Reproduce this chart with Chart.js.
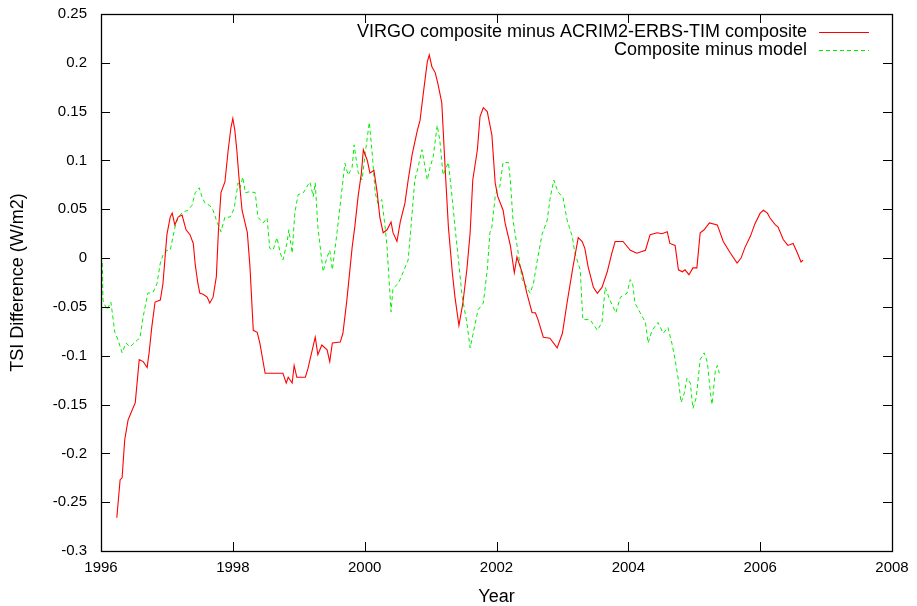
<!DOCTYPE html>
<html>
<head>
<meta charset="utf-8">
<script src="https://cdn.jsdelivr.net/npm/chart.js@4.4.0/dist/chart.umd.min.js"></script>
<style>
  html, body { margin: 0; padding: 0; background: #fff; }
  #wrap { width: 917px; height: 606px; position: relative; }
</style>
</head>
<body>
<div id="wrap"><canvas id="c"></canvas></div>
<script>
// ---- Data ----
const seriesLabels = ["VIRGO composite minus ACRIM2-ERBS-TIM composite", "Composite minus model"];

const virgoYears = [
  1996.24,1996.29,1996.32,1996.36,1996.41,1996.44,1996.52,1996.58,1996.64,1996.70,
  1996.73,1996.77,1996.82,1996.90,1996.94,1997.00,1997.05,1997.08,1997.12,1997.17,
  1997.23,1997.29,1997.35,1997.40,1997.43,1997.47,1997.50,1997.55,1997.61,1997.65,
  1997.70,1997.75,1997.78,1997.82,1997.88,1997.93,1997.97,1998.00,1998.03,1998.06,
  1998.09,1998.14,1998.22,1998.26,1998.31,1998.37,1998.41,1998.49,1998.76,1998.81,
  1998.84,1998.90,1998.93,1998.97,1999.10,1999.14,1999.25,1999.29,1999.35,1999.43,
  1999.47,1999.51,1999.63,1999.67,1999.73,1999.81,1999.85,1999.90,1999.95,1999.98,
  2000.04,2000.08,2000.14,2000.19,2000.23,2000.28,2000.34,2000.40,2000.43,2000.49,
  2000.54,2000.61,2000.66,2000.72,2000.80,2000.84,2000.89,2000.95,2000.98,2001.02,
  2001.07,2001.11,2001.17,2001.22,2001.27,2001.33,2001.37,2001.43,2001.49,2001.55,
  2001.60,2001.64,2001.71,2001.75,2001.80,2001.86,2001.93,2001.98,2002.02,2002.10,
  2002.13,2002.21,2002.27,2002.31,2002.39,2002.46,2002.54,2002.59,2002.63,2002.71,
  2002.81,2002.92,2003.00,2003.07,2003.16,2003.24,2003.30,2003.34,2003.39,2003.47,
  2003.53,2003.60,2003.68,2003.75,2003.80,2003.92,2004.03,2004.13,2004.26,2004.33,
  2004.44,2004.51,2004.59,2004.63,2004.71,2004.76,2004.82,2004.86,2004.92,2004.98,
  2005.04,2005.09,2005.15,2005.23,2005.35,2005.44,2005.55,2005.65,2005.71,2005.77,
  2005.85,2005.92,2006.00,2006.05,2006.11,2006.15,2006.23,2006.27,2006.35,2006.42,
  2006.50,2006.56,2006.62,2006.65
];
const virgoValues = [
  -0.266,-0.227,-0.225,-0.186,-0.166,-0.161,-0.148,-0.104,-0.106,-0.112,
  -0.097,-0.071,-0.045,-0.043,-0.026,0.024,0.042,0.046,0.034,0.042,
  0.044,0.029,0.024,0.015,-0.007,-0.026,-0.036,-0.037,-0.040,-0.046,
  -0.040,-0.019,0.026,0.067,0.078,0.111,0.133,0.143,0.131,0.111,
  0.085,0.049,0.026,-0.009,-0.074,-0.076,-0.087,-0.118,-0.118,-0.128,
  -0.122,-0.128,-0.110,-0.122,-0.122,-0.113,-0.081,-0.099,-0.089,-0.094,
  -0.106,-0.087,-0.086,-0.077,-0.043,0.011,0.032,0.063,0.087,0.111,
  0.100,0.087,0.090,0.067,0.042,0.026,0.029,0.037,0.026,0.017,
  0.037,0.056,0.080,0.106,0.131,0.141,0.169,0.201,0.208,0.196,
  0.190,0.179,0.159,0.093,0.032,-0.015,-0.040,-0.069,-0.046,-0.012,
  0.026,0.080,0.111,0.145,0.154,0.150,0.126,0.077,0.063,0.049,
  0.036,0.013,-0.015,0.001,-0.015,-0.036,-0.056,-0.056,-0.063,-0.081,
  -0.082,-0.092,-0.077,-0.046,-0.009,0.021,0.017,0.010,-0.009,-0.030,
  -0.036,-0.030,-0.014,0.005,0.017,0.017,0.008,0.005,0.008,0.024,
  0.026,0.025,0.027,0.015,0.013,-0.012,-0.014,-0.012,-0.017,-0.010,
  -0.010,0.026,0.029,0.036,0.034,0.017,0.005,-0.005,0.000,0.011,
  0.022,0.035,0.046,0.049,0.046,0.041,0.034,0.032,0.019,0.013,
  0.015,0.006,-0.004,-0.002
];

const modelYears = [
  1996.02,1996.03,1996.09,1996.15,1996.21,1996.26,1996.32,1996.38,1996.44,1996.55,
  1996.59,1996.64,1996.71,1996.79,1996.85,1996.90,1996.94,1997.00,1997.05,1997.12,
  1997.17,1997.24,1997.32,1997.38,1997.43,1997.49,1997.53,1997.58,1997.65,1997.70,
  1997.76,1997.82,1997.88,1997.96,1998.02,1998.08,1998.11,1998.15,1998.19,1998.26,
  1998.34,1998.38,1998.46,1998.52,1998.56,1998.61,1998.67,1998.72,1998.76,1998.82,
  1998.85,1998.90,1998.94,1998.99,1999.07,1999.14,1999.17,1999.22,1999.25,1999.29,
  1999.37,1999.43,1999.47,1999.51,1999.58,1999.66,1999.70,1999.75,1999.81,1999.84,
  1999.90,1999.96,2000.01,2000.07,2000.11,2000.16,2000.20,2000.26,2000.31,2000.34,
  2000.40,2000.43,2000.51,2000.58,2000.66,2000.72,2000.76,2000.81,2000.87,2000.95,
  2000.99,2001.04,2001.10,2001.14,2001.19,2001.27,2001.33,2001.37,2001.42,2001.48,
  2001.55,2001.60,2001.64,2001.72,2001.80,2001.86,2001.90,2001.93,2001.98,2002.01,
  2002.05,2002.10,2002.18,2002.21,2002.25,2002.33,2002.39,2002.46,2002.51,2002.56,
  2002.62,2002.69,2002.77,2002.81,2002.87,2002.93,2003.01,2003.07,2003.15,2003.19,
  2003.27,2003.31,2003.42,2003.53,2003.60,2003.65,2003.72,2003.81,2003.88,2003.98,
  2004.03,2004.07,2004.10,2004.18,2004.26,2004.30,2004.36,2004.45,2004.53,2004.60,
  2004.66,2004.71,2004.76,2004.80,2004.85,2004.89,2004.94,2004.98,2005.03,2005.09,
  2005.15,2005.20,2005.24,2005.27,2005.32,2005.35,2005.38
];
const modelValues = [
  -0.005,-0.043,-0.053,-0.045,-0.076,-0.084,-0.097,-0.087,-0.091,-0.084,
  -0.082,-0.060,-0.036,-0.035,-0.026,-0.005,0.003,0.008,0.008,0.031,
  0.042,0.047,0.049,0.054,0.067,0.072,0.063,0.056,0.054,0.049,
  0.037,0.027,0.042,0.042,0.051,0.077,0.072,0.083,0.067,0.068,
  0.067,0.042,0.036,0.041,0.010,0.008,0.021,0.005,-0.002,0.015,
  0.029,0.005,0.046,0.065,0.067,0.075,0.078,0.063,0.077,0.032,
  -0.014,0.001,0.008,-0.012,0.026,0.073,0.097,0.085,0.093,0.116,
  0.088,0.080,0.108,0.139,0.111,0.067,0.056,0.060,0.032,0.011,
  -0.055,-0.031,-0.026,-0.015,-0.002,0.046,0.080,0.093,0.111,0.080,
  0.092,0.104,0.136,0.121,0.085,0.098,0.060,0.032,0.000,-0.040,
  -0.066,-0.092,-0.079,-0.053,-0.046,-0.012,0.026,0.032,0.063,0.070,
  0.073,0.098,0.098,0.080,0.039,0.005,-0.022,-0.030,-0.036,-0.026,
  -0.002,0.024,0.039,0.060,0.080,0.068,0.062,0.039,0.022,0.005,
  -0.012,-0.063,-0.063,-0.074,-0.066,-0.030,-0.043,-0.056,-0.040,-0.036,
  -0.022,-0.028,-0.046,-0.056,-0.066,-0.087,-0.074,-0.066,-0.077,-0.071,
  -0.087,-0.104,-0.125,-0.148,-0.138,-0.123,-0.128,-0.154,-0.143,-0.104,
  -0.097,-0.107,-0.135,-0.150,-0.115,-0.110,-0.118
];

const xTickValues = [1996, 1998, 2000, 2002, 2004, 2006, 2008];
const yTickValues = [0.25, 0.2, 0.15, 0.1, 0.05, 0, -0.05, -0.1, -0.15, -0.2, -0.25, -0.3];
const xTitle = "Year";
const yTitle = "TSI Difference (W/m2)";

// ---- Build datasets ----
function toPoints(xs, ys) { return xs.map((x, i) => ({ x: x, y: ys[i] })); }

const FONT = "'Liberation Sans', Arial, Helvetica, sans-serif";

// Gnuplot-like frame: border, inward ticks on all four sides, legend inside the top-right corner
const gnuplotFrame = {
  id: 'gnuplotFrame',
  afterDatasetsDraw(chart) {
    const { ctx, chartArea: a, scales } = chart;
    const xs = scales.x, ys = scales.y;
    const L = 9;
    ctx.save();
    ctx.strokeStyle = '#000';
    ctx.lineWidth = 1;
    ctx.beginPath();
    xs.ticks.forEach(t => {
      const px = Math.round(xs.getPixelForValue(t.value)) + 0.5;
      ctx.moveTo(px, a.bottom); ctx.lineTo(px, a.bottom - L);
      ctx.moveTo(px, a.top); ctx.lineTo(px, a.top + L);
    });
    ys.ticks.forEach(t => {
      const py = Math.round(ys.getPixelForValue(t.value)) + 0.5;
      ctx.moveTo(a.left, py); ctx.lineTo(a.left + L, py);
      ctx.moveTo(a.right, py); ctx.lineTo(a.right - L, py);
    });
    ctx.stroke();
    ctx.lineWidth = 1.3;
    ctx.strokeRect(Math.round(a.left) + 0.5, Math.round(a.top) + 0.5,
                   Math.round(a.right - a.left), Math.round(a.bottom - a.top));
    // legend
    ctx.font = "18px " + FONT;
    ctx.textAlign = 'right';
    ctx.textBaseline = 'middle';
    chart.data.datasets.forEach((ds, i) => {
      const yy = a.top + 18 + i * 18;
      ctx.fillStyle = '#000';
      ctx.fillText(ds.label, a.right - 85, yy);
      ctx.save();
      ctx.strokeStyle = ds.borderColor;
      ctx.lineWidth = 1;
      ctx.setLineDash(ds.borderDash || []);
      ctx.beginPath();
      ctx.moveTo(a.right - 73, Math.round(yy) + 0.5);
      ctx.lineTo(a.right - 23, Math.round(yy) + 0.5);
      ctx.stroke();
      ctx.restore();
    });
    ctx.restore();
  }
};

new Chart(document.getElementById('c'), {
  type: 'line',
  data: {
    datasets: [
      { label: seriesLabels[0], data: toPoints(virgoYears, virgoValues),
        borderColor: '#ff0000', borderWidth: 1.1, pointRadius: 0, tension: 0, fill: false },
      { label: seriesLabels[1], data: toPoints(modelYears, modelValues),
        borderColor: '#00ee00', borderWidth: 1, borderDash: [4, 3], pointRadius: 0, tension: 0, fill: false }
    ]
  },
  options: {
    responsive: true,
    maintainAspectRatio: false,
    devicePixelRatio: 1,
    animation: false,
    layout: { padding: { left: 0, top: 14, right: 25, bottom: 0 } },
    plugins: { legend: { display: false }, tooltip: { enabled: false } },
    scales: {
      x: {
        type: 'linear', min: 1996, max: 2008,
        afterBuildTicks: s => { s.ticks = xTickValues.map(v => ({ value: v })); },
        afterFit: s => { s.height = 55; s.paddingLeft = 0; s.paddingRight = 0; },
        grid: { display: false, drawTicks: false },
        border: { display: false },
        ticks: { padding: 8, color: '#000', font: { family: FONT, size: 15 },
                 callback: v => String(v), maxRotation: 0, autoSkip: false },
        title: { display: true, text: xTitle, color: '#000',
                 font: { family: FONT, size: 18, lineHeight: 1 }, padding: { top: 0, bottom: 0 } }
      },
      y: {
        type: 'linear', min: -0.3, max: 0.25,
        afterBuildTicks: s => { s.ticks = yTickValues.map(v => ({ value: v })); },
        afterFit: s => { s.width = 101; s.paddingTop = 0; s.paddingBottom = 0; },
        grid: { display: false, drawTicks: false },
        border: { display: false },
        ticks: { padding: 14, color: '#000', font: { family: FONT, size: 15 },
                 callback: v => String(parseFloat(Number(v).toFixed(2))), autoSkip: false },
        title: { display: true, text: yTitle, color: '#000',
                 font: { family: FONT, size: 18, lineHeight: 1 }, padding: { top: 9, bottom: 0 } }
      }
    }
  },
  plugins: [gnuplotFrame]
});
</script>
</body>
</html>
